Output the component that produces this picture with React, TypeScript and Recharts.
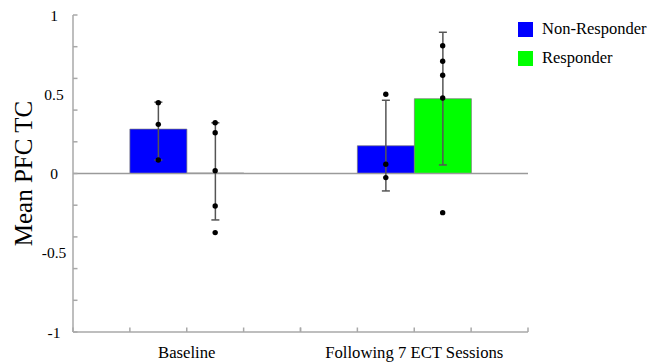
import React from 'react';
import {
  ComposedChart,
  Bar,
  XAxis,
  YAxis,
  ErrorBar,
  Scatter,
  ReferenceLine,
  Legend,
} from 'recharts';

// ---- data ----
const groups = ['Baseline', 'Following 7 ECT Sessions'];
const nonResponderMean = [0.28, 0.175];
const responderMean = [0.003, 0.472];
// [minus, plus]
const nonResponderErr = [
  [0.195, 0.17],
  [0.285, 0.287],
];
const responderErr = [
  [0.296, 0.317],
  [0.418, 0.419],
];
const nonResponderPoints = [
  [0.447, 0.31, 0.085],
  [0.5, 0.058, -0.026],
];
const responderPoints = [
  [0.32, 0.257, 0.018, -0.205, -0.373],
  [0.806, 0.708, 0.62, 0.476, -0.247],
];
const yTicks = [-1, -0.8, -0.6, -0.5, -0.4, -0.2, 0, 0.2, 0.4, 0.5, 0.6, 0.8, 1];

const series = [
  { key: 'nonResponder', name: 'Non-Responder', color: '#0000ff', means: nonResponderMean, errs: nonResponderErr, points: nonResponderPoints },
  { key: 'responder', name: 'Responder', color: '#00ff00', means: responderMean, errs: responderErr, points: responderPoints },
];

const barData = groups.map((g, gi) => {
  const row: any = { group: g };
  series.forEach((s) => {
    row[s.key] = s.means[gi];
    row[s.key + 'Err'] = s.errs[gi];
  });
  return row;
});

// each category band is split into 4 slots: gap, bar, bar, gap
const SLOTS_PER_GROUP = 4;
const pointData = series.flatMap((s, si) =>
  s.points.flatMap((vals, gi) =>
    vals.map((v) => ({ pos: gi * SLOTS_PER_GROUP + 1.5 + si, v }))
  )
);

// ---- layout ----
const W = 652;
const H = 362;
const MARGIN = { top: 15, right: 124, bottom: 0, left: 0 };
const X_AXIS_H = 30;
const Y_AXIS_W = 73;
const PLOT_W = W - MARGIN.left - MARGIN.right - Y_AXIS_W;
const AXIS_COLOR = '#a8a8a8';
const FONT = '"Liberation Serif", "Times New Roman", serif';

const XTick = (props: any) => {
  const { x, y, payload } = props;
  const q = PLOT_W / groups.length / SLOTS_PER_GROUP;
  const ks = [-2, -1, 0, 1, 2];
  return (
    <g>
      {ks.map((k) => (
        <line key={k} x1={x + k * q} x2={x + k * q} y1={y} y2={y - 4.5} stroke={AXIS_COLOR} strokeWidth={1.5} />
      ))}
      <text x={x} y={y + 20} textAnchor="middle" dominantBaseline="central" fontSize={16.7} fill="#000" fontFamily={FONT}>
        {payload.value}
      </text>
    </g>
  );
};

const YTick = (props: any) => {
  const { x, y, payload } = props;
  const v = payload.value as number;
  const isMinor = Math.abs(v * 5 - Math.round(v * 5)) < 1e-6;
  const isLabel = Math.abs(v * 2 - Math.round(v * 2)) < 1e-6;
  return (
    <g>
      {isMinor && <line x1={x} x2={x + 4.5} y1={y} y2={y} stroke={AXIS_COLOR} strokeWidth={1.5} />}
      {isLabel && (
        <text x={x - 19} y={y} textAnchor="middle" dominantBaseline="central" fontSize={15.5} fill="#000" fontFamily={FONT}>
          {String(v)}
        </text>
      )}
    </g>
  );
};

const YLabel = (props: any) => {
  const vb = props.viewBox || {};
  const cx = (vb.x ?? 0) + 23;
  const cy = (vb.y ?? 0) + (vb.height ?? 0) / 2;
  return (
    <text
      x={cx}
      y={cy}
      transform={`rotate(-90 ${cx} ${cy})`}
      textAnchor="middle"
      dominantBaseline="central"
      fontSize={25}
      fill="#000"
      fontFamily={FONT}
    >
      Mean PFC TC
    </text>
  );
};

const LegendContent = () => (
  <div style={{ fontFamily: FONT }}>
    {series.map((s) => (
      <div key={s.key} style={{ display: 'flex', alignItems: 'center', height: 29 }}>
        <div style={{ width: 15, height: 15, background: s.color, marginRight: 9 }} />
        <span style={{ fontSize: 16.5, color: '#000', whiteSpace: 'nowrap' }}>{s.name}</span>
      </div>
    ))}
  </div>
);

export default function App() {
  return (
    <div style={{ position: 'absolute', left: 0, top: 0, width: W, height: H, background: '#fff' }}>
      <ComposedChart
        width={W}
        height={H}
        data={barData}
        margin={MARGIN}
        barCategoryGap="25%"
        barGap={0}
        style={{ fontFamily: FONT }}
      >
        <XAxis
          xAxisId="cat"
          dataKey="group"
          height={X_AXIS_H}
          axisLine={{ stroke: AXIS_COLOR, strokeWidth: 1.5 }}
          tickLine={false}
          tickSize={0}
          tickMargin={0}
          interval={0}
          tick={<XTick />}
        />
        <XAxis
          xAxisId="pos"
          dataKey="pos"
          type="number"
          domain={[0, groups.length * SLOTS_PER_GROUP]}
          allowDataOverflow
          hide
          height={0}
        />
        <YAxis
          type="number"
          domain={[-1, 1]}
          ticks={yTicks}
          interval={0}
          width={Y_AXIS_W}
          axisLine={{ stroke: AXIS_COLOR, strokeWidth: 1.5 }}
          tickLine={false}
          tickSize={0}
          tickMargin={0}
          tick={<YTick />}
          label={<YLabel />}
        />
        <ReferenceLine y={0} xAxisId="cat" stroke="#9a9a9a" strokeWidth={1.5} />
        {series.map((s) => (
          <Bar
            key={s.key}
            xAxisId="cat"
            dataKey={s.key}
            name={s.name}
            fill={s.color}
            stroke="#777"
            strokeWidth={0.7}
            isAnimationActive={false}
          >
            <ErrorBar dataKey={s.key + 'Err'} width={4} stroke="#555" strokeWidth={1.5} direction="y" />
          </Bar>
        ))}
        <Scatter
          xAxisId="pos"
          data={pointData}
          dataKey="v"
          legendType="none"
          isAnimationActive={false}
          shape={(p: any) => <circle cx={p.cx} cy={p.cy} r={2.7} fill="#000" />}
        />
        <Legend
          layout="vertical"
          align="center"
          verticalAlign="middle"
          wrapperStyle={{ left: 518, top: 14.5, width: 134 }}
          content={<LegendContent />}
        />
      </ComposedChart>
    </div>
  );
}
